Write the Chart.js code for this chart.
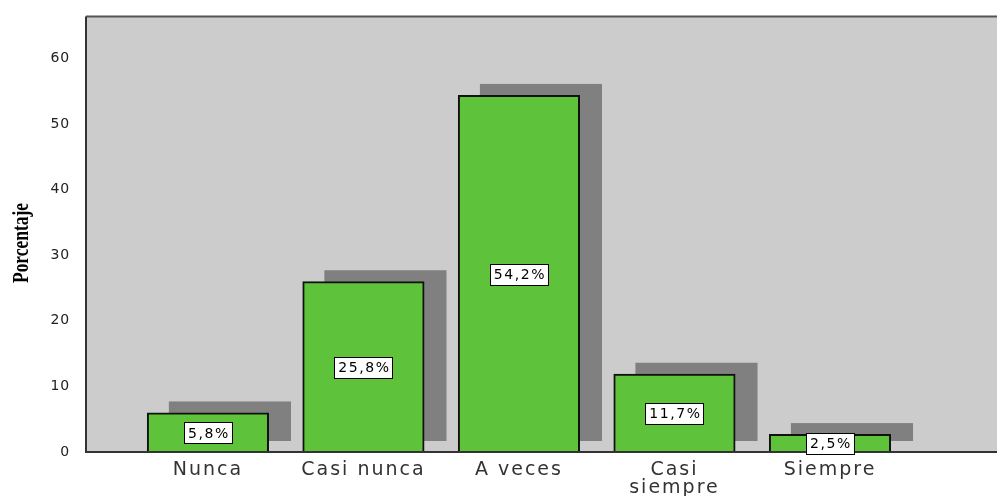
<!DOCTYPE html>
<html lang="es">
<head>
  <meta charset="UTF-8">
  <title>Porcentaje por categoría</title>
  <script src="https://cdn.jsdelivr.net/npm/chart.js"></script>
  <style>
    body { margin: 0; background: #fff; }
    canvas { display: block; }
  </style>
</head>
<body>
  <canvas id="barras" width="997" height="496"></canvas>

  <script>
    // datos del gráfico
    const categories = ['Nunca', 'Casi nunca', 'A veces', ['Casi', 'siempre'], 'Siempre'];
    const percentages = [5.8, 25.8, 54.2, 11.7, 2.5];
    const yTicks = [0, 10, 20, 30, 40, 50, 60];

    const barColor = 'rgb(94, 195, 58)';
    const shadowColor = '#808080';
    const plotBg = '#cccccc';

    // fondo gris, sombras, bordes y etiquetas de valor
    const spssStyle = {
      id: 'spssStyle',
      afterLayout(chart) {
        // etiquetas del eje Y con menos espaciado que las del eje X
        const y = chart.scales.y;
        if (!y._spaced) {
          const orig = y.drawLabels;
          y.drawLabels = function (area) {
            const c = this.ctx;
            const prev = c.letterSpacing;
            c.letterSpacing = '0.8px';
            orig.call(this, area);
            c.letterSpacing = prev;
          };
          y._spaced = true;
        }
      },
      beforeDraw(chart) {
        const { ctx, chartArea: a } = chart;
        ctx.save();
        ctx.fillStyle = plotBg;
        ctx.fillRect(a.left, a.top, a.right - a.left, a.bottom - a.top);
        ctx.restore();
        ctx.letterSpacing = '2px';
      },
      beforeDatasetsDraw(chart) {
        const { ctx } = chart;
        ctx.save();
        ctx.fillStyle = shadowColor;
        chart.getDatasetMeta(0).data.forEach(bar => {
          const half = bar.width / 2 + 1.5;
          ctx.fillRect(bar.x - half + 22, bar.y - 12.5, bar.width + 3, bar.base - bar.y + 1.5);
        });
        ctx.restore();
      },
      afterDatasetsDraw(chart) {
        const { ctx, chartArea: a } = chart;
        ctx.save();
        ctx.letterSpacing = '1.6px';

        // ejes
        ctx.lineWidth = 2;
        ctx.strokeStyle = '#555';
        ctx.beginPath();
        ctx.moveTo(a.left, a.top);
        ctx.lineTo(a.right, a.top);
        ctx.stroke();
        ctx.strokeStyle = '#333';
        ctx.beginPath();
        ctx.moveTo(a.left, a.top);
        ctx.lineTo(a.left, a.bottom);
        ctx.lineTo(a.right, a.bottom);
        ctx.stroke();

        // cajas con el porcentaje
        ctx.font = '14px "DejaVu Sans"';
        ctx.textAlign = 'center';
        ctx.textBaseline = 'middle';
        chart.getDatasetMeta(0).data.forEach((bar, i) => {
          const txt = percentages[i].toFixed(1).replace('.', ',') + '%';
          const w = ctx.measureText(txt).width + 6;
          const h = 21;
          const cy = (bar.y + bar.base) / 2;
          ctx.fillStyle = '#fff';
          ctx.fillRect(Math.round(bar.x - w / 2) + 0.5, Math.round(cy - h / 2) + 0.5, Math.round(w), h);
          ctx.strokeStyle = '#000';
          ctx.lineWidth = 1;
          ctx.strokeRect(Math.round(bar.x - w / 2) + 0.5, Math.round(cy - h / 2) + 0.5, Math.round(w), h);
          ctx.fillStyle = '#000';
          ctx.fillText(txt, bar.x + 1, cy + 1);
        });
        ctx.restore();
      },
      afterDraw(chart) {
        const { ctx } = chart;
        ctx.save();
        ctx.letterSpacing = '0px';
        // título del eje Y, serif condensada
        ctx.font = 'bold 23px "Liberation Serif"';
        ctx.fillStyle = '#000';
        ctx.textAlign = 'center';
        ctx.textBaseline = 'alphabetic';
        ctx.translate(28, 243);
        ctx.rotate(-Math.PI / 2);
        const w = ctx.measureText('Porcentaje').width;
        ctx.scale(80 / w, 1);
        ctx.fillText('Porcentaje', 0, 0);
        ctx.restore();
        ctx.letterSpacing = '0px';
      }
    };

    const ctx = document.getElementById('barras').getContext('2d');
    new Chart(ctx, {
      type: 'bar',
      data: {
        datasets: [{
          data: percentages.map((v, i) => ({ x: i + 1, y: v })),
          backgroundColor: barColor,
          borderColor: '#111',
          borderWidth: 2,
          borderSkipped: false,
          inflateAmount: 1.5,
          categoryPercentage: 1,
          barPercentage: 0.766
        }]
      },
      options: {
        responsive: false,
        animation: false,
        layout: { padding: { top: 15, left: 0, right: 0, bottom: 0 } },
        plugins: {
          legend: { display: false },
          tooltip: { enabled: false }
        },
        scales: {
          x: {
            type: 'linear',
            offset: false,
            bounds: 'data',
            min: 0.216,
            max: 6.074,
            grid: { display: false },
            border: { display: false },
            afterBuildTicks: scale => {
              scale.ticks = categories.map((c, i) => ({ value: i + 1 }));
            },
            afterFit: scale => { scale.height = 44; },
            ticks: {
              autoSkip: false,
              maxRotation: 0,
              padding: 2,
              color: '#333',
              font: { family: 'DejaVu Sans', size: 19, lineHeight: 0.9 },
              callback: v => categories[v - 1]
            }
          },
          y: {
            min: 0,
            max: 66.4,
            grid: { display: false },
            border: { display: false },
            afterBuildTicks: scale => {
              scale.ticks = yTicks.map(v => ({ value: v }));
            },
            afterFit: scale => { scale.width = 86; },
            ticks: {
              padding: 8,
              color: '#222',
              font: { family: 'DejaVu Sans', size: 14 }
            }
          }
        }
      },
      plugins: [spssStyle]
    });
  </script>
</body>
</html>
